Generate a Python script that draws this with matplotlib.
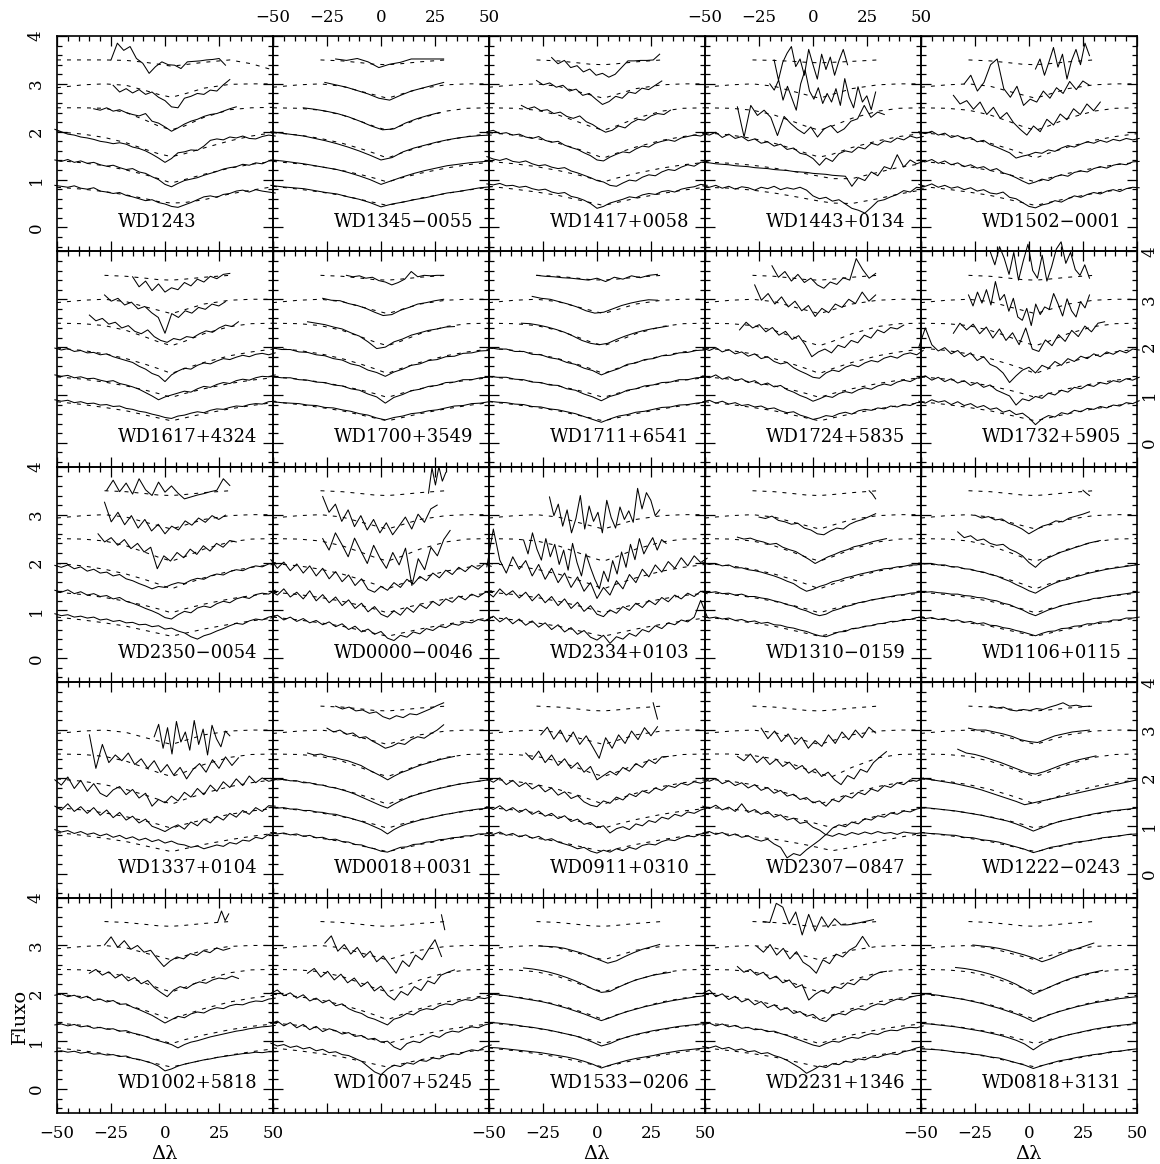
import numpy as np
import matplotlib.pyplot as plt

plt.rcParams['font.family'] = ['DejaVu Serif', 'DejaVu Sans']
nan = float('nan')

# model knots (delta lambda); all fluxes below are in units of 0.01, bottom line first
MX = [-50, -38, -28, -18, -9, -3, 3, 9, 18, 30, 40, 50]

MOD_STD = [
    [86, 80, 74, 67, 58, 52, 46, 52, 61, 71, 78, 84],
    [138, 133, 127, 119, 110, 103, 95, 103, 113, 124, 131, 136],
    [198, 193, 186, 176, 164, 155, 145, 155, 168, 182, 190, 196],
    [250, 249, 245, 235, 221, 211, 203, 212, 228, 243, 249, 250],
    [293, 298, 300, 295, 284, 277, 270, 278, 290, 298, 300, 300],
    [nan, nan, 350, 348, 344, 341, 340, 342, 346, 350, nan, nan],
]
MOD_NO6 = MOD_STD[:5]

# ---- WD1243
wd1243_mod = [
    [84, 80, 75, 68, 60, 54, 51, 52, 58, 70, 78, 85],
    [140, 135, 129, 120, 110, 102, 93, 100, 111, 124, 132, 138],
    [200, 195, 188, 177, 163, 154, 148, 154, 166, 181, 191, 198],
    [250, 250, 249, 240, 224, 212, 204, 212, 230, 246, 250, 251],
    [292, 298, 300, 297, 286, 278, 272, 279, 291, 299, 300, 300],
    [350, 350, 350, 349, 345, 341, 337, 340, 345, 350, 342, 329],
]
wd1243_rng = [(-51, 51), (-51, 51), (-51, 51), (-33, 33), (-24, 30), (-25, 28)]
wd1243_obs = [
    [88, 86, 84, 87, 82, 80, 83, 76, 74, 71, 73, 67, 64, 60, 56, 58, 52, 49, 44, 42, 47, 52, 58, 64, 66, 63, 69, 71, 76, 78, 74, 79, 76, 74, 72],
    [141, 138, 142, 136, 139, 134, 136, 131, 128, 130, 125, 121, 123, 116, 113, 106, 100, 90, 85, 92, 98, 101, 104, 109, 113, 117, 122, 125, 127, 132, 130, 135, 133, 139, 140],
    [205, 200, 195, 193, 189, 187, 184, 180, 178, 175, 177, 174, 168, 165, 160, 153, 145, 136, 144, 156, 158, 162, 161, 170, 182, 185, 183, 189, 187, 191, 186, 185, 190, 193, 191],
    [248, 245, 250, 243, 246, 240, 236, 233, 238, 222, 218, 210, 201, 208, 216, 222, 226, 232, 236, 238, 243, 248, 252],
    [297, 283, 290, 281, 288, 278, 283, 272, 265, 252, 250, 270, 274, 280, 278, 287, 285, 298, 309],
    [350, 385, 370, 378, 353, 343, 322, 336, 346, 340, 339, 332, 346, 347, 348, 350, 351, 353, 339],
]

# ---- WD1345-0055
wd1345_rng = [(-51, 51), (-51, 51), (-51, 51), (-36, 27), (-26, 29), (-21, 29)]
wd1345_obs = [
    [88, 85, 83, 81, 77, 73, 70, 64, 59, 52, 43, 49, 53, 58, 62, 67, 72, 75, 79, 83, 85],
    [141, 139, 136, 133, 129, 125, 121, 115, 108, 100, 90, 98, 106, 113, 119, 124, 129, 132, 135, 137, 139],
    [200, 197, 194, 191, 186, 181, 175, 168, 160, 151, 141, 146, 158, 166, 172, 178, 183, 187, 190, 192, 193],
    [250, 247, 243, 238, 231, 222, 212, 204, 206, 218, 227, 234, 240],
    [303, 298, 293, 286, 279, 270, 266, 276, 285, 291, 297, 303],
    [352, 349, 353, 346, 334, 341, 345, 352, 352, 352, 352],
]

# ---- WD1417+0058
wd1417_rng = [(-51, 51), (-51, 51), (-51, 51), (-35, 34), (-28, 30), (-21, 29)]
wd1417_obs = [
    [91, 89, 92, 87, 88, 84, 86, 81, 78, 80, 74, 71, 73, 65, 62, 57, 50, 40, 44, 51, 55, 59, 64, 62, 68, 71, 69, 75, 77, 74, 80, 83, 85, 90, 88],
    [148, 143, 140, 144, 138, 136, 139, 133, 129, 131, 126, 123, 125, 118, 114, 109, 104, 98, 95, 88, 86, 93, 99, 97, 105, 110, 108, 116, 121, 119, 126, 131, 128, 136, 138],
    [200, 203, 196, 198, 193, 195, 189, 186, 190, 182, 178, 180, 172, 167, 163, 156, 150, 141, 139, 147, 153, 158, 156, 164, 170, 168, 176, 180, 183, 180, 187, 190, 193, 191, 197],
    [255, 248, 252, 244, 246, 238, 241, 232, 228, 233, 221, 215, 206, 199, 203, 212, 208, 219, 226, 224, 233, 238, 236, 245],
    [307, 298, 302, 293, 297, 285, 289, 276, 280, 268, 257, 263, 274, 270, 283, 280, 291, 288, 297, 306],
    [355, 342, 349, 334, 338, 325, 331, 318, 322, 314, 320, 334, 348, 348, 349, 349, 350, 362],
]

# ---- WD1443+0134
wd1443_mod = [
    [84, 82, 78, 72, 65, 60, 55, 51, 50, 60, 70, 78],
    [137, 134, 130, 124, 117, 112, 107, 102, 102, 115, 126, 133],
    [198, 193, 186, 176, 164, 155, 147, 153, 167, 181, 190, 196],
    [250, 249, 245, 235, 221, 211, 203, 212, 228, 243, 249, 250],
    [293, 298, 300, 295, 284, 277, 270, 278, 290, 298, 300, 300],
    [nan, nan, 350, 349, 347, 345, 344, 345, 347, 350, nan, nan],
]
wd1443_rng = [(-51, 51), (-51, 51), (-51, 51), (-35, 33), (-20, 29), (-18, 16)]
wd1443_obs = [
    [87, 84, 88, 82, 86, 80, 85, 83, 78, 84, 81, 86, 79, 83, 80, 84, 78, 66, 60, 63, 55, 58, 49, 40, 36, 30, 42, 55, 58, 64, 69, 77, 74, 84, 82],
    [136, 135, 133, 132, 131, 129, 128, 127, 125, 124, 123, 121, 120, 119, 117, 116, 115, 113, 112, 111, 109, 108, 107, 86, 104, 98, 116, 108, 127, 122, 152, 126, 141, 133, 138],
    [196, 193, 199, 188, 195, 186, 190, 181, 185, 176, 179, 170, 174, 163, 166, 155, 152, 144, 130, 145, 138, 154, 160, 157, 168, 164, 176, 172, 181, 178, 187, 183, 191, 187, 190],
    [252, 189, 255, 234, 245, 230, 192, 232, 217, 205, 196, 210, 189, 206, 213, 198, 206, 222, 227, 255, 230, 241, 236],
    [300, 287, 308, 266, 295, 270, 245, 300, 329, 285, 268, 292, 259, 280, 262, 290, 255, 311, 272, 250, 294, 262, 275, 246, 283],
    [350, 308, 345, 364, 378, 336, 352, 318, 372, 340, 310, 362, 330, 356, 318, 348, 372, 340],
]

# ---- WD1502-0001
wd1502_rng = [(-51, 51), (-51, 51), (-51, 51), (-35, 33), (-30, 28), (3, 28)]
wd1502_obs = [
    [90, 86, 91, 84, 88, 82, 85, 79, 83, 76, 79, 72, 70, 74, 63, 60, 52, 44, 41, 47, 50, 56, 53, 60, 66, 63, 69, 73, 70, 76, 79, 75, 81, 84, 83],
    [141, 137, 142, 134, 139, 131, 135, 127, 131, 124, 127, 119, 123, 114, 110, 104, 97, 91, 95, 101, 98, 106, 110, 107, 115, 118, 116, 123, 127, 124, 130, 133, 131, 137, 138],
    [200, 196, 201, 193, 197, 188, 192, 185, 188, 179, 182, 173, 168, 162, 156, 145, 149, 152, 157, 155, 162, 159, 166, 171, 168, 174, 179, 176, 182, 178, 184, 181, 186, 183, 186],
    [276, 258, 265, 247, 262, 236, 251, 228, 240, 219, 205, 193, 212, 200, 226, 214, 237, 225, 248, 236, 258, 244, 262],
    [300, 318, 285, 303, 340, 352, 290, 272, 295, 255, 268, 262, 285, 270, 292, 280, 305, 288, 306, 297],
    [331, 352, 318, 346, 376, 335, 362, 310, 348, 372, 340, 385, 359],
]

# ---- WD1617+4324
wd1617_rng = [(-51, 51), (-51, 51), (-51, 51), (-35, 34), (-28, 28), (-15, 30)]
wd1617_obs = [
    [90, 87, 89, 84, 86, 82, 83, 79, 80, 76, 77, 72, 70, 66, 64, 60, 57, 53, 51, 56, 58, 62, 65, 63, 68, 71, 70, 74, 77, 76, 80, 82, 81, 86, 87],
    [142, 139, 141, 136, 138, 134, 135, 131, 128, 130, 124, 121, 117, 112, 105, 98, 90, 96, 100, 104, 108, 106, 113, 118, 116, 122, 126, 124, 130, 133, 131, 136, 139, 138, 142],
    [198, 194, 197, 191, 193, 188, 189, 184, 186, 180, 176, 172, 168, 160, 154, 145, 140, 128, 142, 150, 156, 154, 162, 167, 165, 171, 176, 174, 179, 183, 180, 185, 187, 184, 188],
    [267, 255, 260, 248, 252, 240, 245, 233, 228, 236, 222, 214, 210, 218, 215, 222, 220, 228, 234, 231, 240, 246, 243, 253],
    [309, 296, 302, 288, 294, 280, 285, 272, 262, 229, 270, 262, 276, 271, 283, 279, 290, 286, 295],
    [347, 326, 338, 318, 332, 315, 324, 320, 335, 328, 342, 336, 348, 343, 352, 354],
]

# ---- WD1700+3549
wd1700_rng = [(-50, 50), (-50, 50), (-50, 50), (-34, 34), (-27, 29), (-16, 29)]
wd1700_obs = [
    [86, 84, 83, 82, 79, 78, 74, 73, 69, 66, 61, 58, 52, 48, 53, 56, 61, 63, 67, 69, 73, 77, 78, 82, 83, 86],
    [138, 136, 136, 132, 131, 127, 126, 121, 119, 113, 110, 102, 96, 83, 95, 101, 109, 112, 118, 120, 126, 127, 132, 132, 136, 137],
    [198, 195, 195, 190, 189, 184, 182, 176, 173, 165, 161, 152, 147, 139, 148, 154, 162, 165, 172, 174, 180, 181, 187, 188, 192, 193],
    [253, 250, 247, 242, 238, 230, 223, 211, 197, 200, 211, 217, 225, 230, 235, 238, 242, 243],
    [302, 298, 297, 291, 287, 281, 273, 266, 268, 277, 283, 290, 293, 297, 300],
    [350, 347, 349, 344, 346, 339, 336, 330, 335, 342, 358, 347, 350, 349, 350, 350],
]

# ---- WD1711+6541
wd1711_rng = [(-50, 50), (-50, 50), (-50, 50), (-35, 33), (-30, 28), (-28, 28)]
wd1711_obs = [
    [87, 85, 84, 81, 80, 76, 75, 71, 69, 65, 61, 55, 49, 43, 50, 56, 59, 64, 66, 70, 74, 75, 79, 80, 83, 85],
    [139, 137, 137, 133, 132, 127, 126, 121, 120, 113, 110, 102, 96, 88, 97, 102, 110, 113, 119, 121, 126, 127, 132, 132, 136, 137],
    [199, 196, 196, 191, 191, 185, 184, 178, 175, 168, 164, 156, 151, 142, 149, 155, 164, 167, 174, 176, 182, 183, 188, 189, 193, 194],
    [250, 249, 246, 242, 237, 231, 223, 214, 208, 205, 208, 216, 223, 229, 234, 238, 241, 244],
    [306, 302, 300, 295, 290, 284, 276, 271, 273, 280, 287, 292, 296, 299, 298],
    [350, 348, 347, 345, 344, 342, 340, 344, 337, 346, 342, 349, 345, 350, 352],
]

# ---- WD1724+5835
wd1724_rng = [(-51, 51), (-51, 51), (-51, 51), (-34, 42), (-27, 29), (-19, 29)]
wd1724_obs = [
    [86, 89, 83, 87, 81, 84, 78, 80, 75, 77, 71, 73, 67, 63, 65, 58, 54, 49, 52, 57, 55, 61, 64, 60, 67, 70, 68, 73, 71, 77, 75, 80, 78, 84, 85],
    [140, 136, 142, 133, 138, 130, 134, 126, 130, 121, 125, 117, 120, 111, 106, 99, 94, 87, 92, 98, 95, 103, 107, 104, 111, 115, 112, 119, 123, 120, 127, 131, 128, 135, 138],
    [198, 193, 199, 190, 195, 186, 190, 181, 186, 176, 180, 170, 165, 168, 157, 150, 144, 137, 135, 146, 152, 149, 158, 163, 159, 167, 172, 169, 177, 181, 177, 185, 188, 184, 193],
    [236, 252, 240, 247, 232, 241, 225, 233, 216, 224, 205, 180, 190, 196, 188, 204, 199, 214, 209, 225, 219, 236, 230, 241, 238, 246],
    [330, 298, 312, 290, 305, 284, 296, 276, 287, 264, 281, 272, 290, 283, 300, 291, 315, 296, 309],
    [370, 346, 358, 338, 352, 335, 344, 330, 323, 336, 331, 345, 340, 385, 362, 344, 354],
]

# ---- WD1732+5905
wd1732_rng = [(-51, 51), (-51, 51), (-51, 51), (-35, 35), (-28, 28), (-18, 28)]
wd1732_obs = [
    [87, 83, 90, 85, 88, 80, 86, 78, 82, 74, 78, 70, 73, 64, 68, 59, 62, 52, 38, 50, 57, 54, 63, 60, 68, 65, 72, 70, 76, 73, 79, 77, 84, 82, 88],
    [135, 140, 131, 137, 128, 134, 125, 130, 120, 126, 116, 121, 110, 104, 98, 79, 92, 88, 97, 93, 104, 100, 110, 106, 116, 113, 121, 118, 126, 123, 130, 127, 134, 131, 137],
    [200, 240, 205, 192, 199, 186, 193, 180, 188, 172, 180, 164, 158, 146, 126, 140, 152, 158, 146, 162, 156, 170, 162, 176, 170, 181, 176, 186, 180, 190, 185, 193, 188, 196, 194],
    [229, 250, 236, 248, 228, 242, 219, 238, 214, 230, 205, 240, 196, 191, 215, 203, 226, 212, 235, 222, 244, 232, 250, 253],
    [309, 286, 315, 292, 320, 288, 337, 298, 310, 275, 302, 263, 256, 281, 245, 290, 268, 284, 279, 312, 290, 265, 301, 276, 263, 295, 282, 309],
    [400, 372, 410, 385, 352, 398, 340, 380, 415, 360, 344, 392, 338, 368, 405, 420, 375, 398, 362, 350, 372, 344],
]

# ---- WD2350-0054
wd2350_rng = [(-51, 51), (-51, 51), (-51, 51), (-31, 33), (-28, 28), (-27, 30)]
wd2350_obs = [
    [93, 89, 91, 86, 88, 84, 86, 80, 82, 77, 79, 74, 75, 70, 71, 66, 68, 61, 63, 57, 53, 45, 40, 47, 51, 57, 62, 68, 73, 71, 78, 82, 80, 86, 89],
    [142, 138, 143, 135, 139, 132, 135, 129, 131, 124, 127, 119, 115, 110, 104, 99, 93, 85, 82, 91, 98, 95, 105, 109, 106, 114, 119, 116, 124, 128, 125, 133, 136, 134, 142],
    [194, 190, 195, 187, 191, 182, 186, 178, 180, 172, 175, 166, 162, 156, 151, 145, 150, 148, 154, 158, 156, 163, 167, 165, 172, 176, 174, 181, 185, 183, 189, 193, 191, 197, 200],
    [260, 243, 252, 236, 248, 229, 240, 222, 232, 187, 214, 203, 221, 210, 228, 217, 235, 224, 240, 232, 246, 243],
    [326, 285, 305, 279, 298, 272, 290, 266, 280, 260, 276, 268, 287, 278, 293, 284, 298, 290, 299],
    [351, 372, 348, 366, 343, 375, 352, 340, 368, 347, 360, 345, 333, 337, 341, 344, 348, 351, 375, 361],
]

# ---- WD0000-0046
wd0000_rng = [(-51, 51), (-51, 51), (-51, 51), (-27, 32), (-27, 26), (22, 30)]
wd0000_obs = [
    [84, 90, 80, 86, 77, 83, 74, 79, 70, 76, 66, 72, 60, 67, 55, 61, 50, 56, 42, 37, 48, 44, 55, 51, 62, 58, 67, 64, 72, 69, 76, 74, 81, 78, 85],
    [140, 132, 145, 128, 138, 124, 141, 120, 133, 116, 128, 110, 122, 104, 115, 97, 108, 92, 86, 99, 90, 106, 96, 112, 104, 119, 110, 124, 117, 130, 122, 134, 128, 137, 141],
    [206, 188, 201, 183, 197, 178, 193, 172, 188, 166, 181, 160, 174, 152, 166, 144, 138, 150, 142, 158, 148, 165, 155, 171, 162, 178, 168, 184, 175, 190, 181, 194, 186, 198, 192],
    [250, 226, 262, 238, 212, 251, 224, 198, 236, 209, 188, 221, 195, 230, 152, 208, 185, 232, 214, 248, 267],
    [338, 305, 322, 286, 310, 275, 298, 268, 290, 262, 283, 258, 276, 295, 270, 301, 284, 312, 320],
    [345, 398, 362, 400, 370, 388],
]

# ---- WD2334+0103 (five lines only)
wd2334_rng = [(-51, 51), (-51, 51), (-51, 51), (-34, 32), (-22, 29)]
wd2334_obs = [
    [80, 88, 76, 85, 72, 82, 69, 78, 65, 74, 60, 70, 55, 64, 50, 58, 44, 38, 48, 31, 45, 40, 52, 46, 60, 55, 68, 62, 74, 70, 80, 76, 86, 121, 87],
    [139, 128, 145, 132, 141, 126, 138, 120, 134, 116, 129, 110, 124, 104, 117, 98, 110, 92, 87, 101, 94, 108, 100, 115, 106, 121, 112, 127, 118, 132, 124, 136, 129, 140, 135],
    [191, 270, 205, 178, 212, 186, 204, 172, 196, 165, 188, 158, 178, 148, 170, 140, 158, 125, 148, 132, 162, 145, 175, 158, 186, 170, 195, 180, 202, 188, 210, 193, 214, 200, 209],
    [247, 218, 262, 228, 205, 250, 212, 238, 196, 226, 184, 240, 200, 172, 218, 190, 165, 145, 182, 160, 204, 176, 222, 190, 238, 206, 250, 218, 236, 252, 226, 248, 240],
    [337, 298, 322, 276, 310, 262, 292, 340, 270, 318, 286, 305, 262, 330, 294, 272, 316, 290, 308, 284, 355, 312, 346, 330, 298, 310],
]

# ---- WD1310-0159
wd1310_rng = [(-51, 51), (-51, 51), (-51, 51), (-35, 34), (-25, 29), (26, 29)]
wd1310_obs = [
    [87, 84, 86, 82, 84, 79, 81, 76, 78, 73, 75, 70, 69, 65, 63, 59, 56, 51, 47, 45, 50, 55, 56, 62, 63, 67, 68, 72, 73, 77, 77, 81, 81, 85, 86],
    [140, 137, 139, 135, 136, 132, 134, 129, 129, 126, 124, 120, 117, 112, 109, 103, 99, 93, 89, 92, 99, 103, 108, 111, 116, 118, 122, 124, 127, 129, 132, 133, 136, 137, 139],
    [200, 196, 198, 193, 195, 189, 189, 185, 183, 180, 176, 172, 167, 161, 156, 147, 140, 144, 150, 154, 160, 163, 168, 171, 175, 178, 181, 184, 187, 188, 191, 192, 195, 195, 198],
    [253, 249, 251, 246, 243, 238, 240, 232, 227, 223, 215, 207, 198, 205, 212, 217, 223, 227, 233, 236, 240, 244, 247, 250],
    [295, 292, 297, 288, 285, 280, 282, 272, 268, 260, 258, 266, 272, 270, 280, 286, 290, 296, 302],
    [350, 343, 333],
]

# ---- WD1106+0115
wd1106_rng = [(-51, 51), (-51, 51), (-51, 51), (-33, 33), (-25, 28), (25, 28)]
wd1106_obs = [
    [86, 83, 85, 81, 83, 78, 80, 75, 77, 72, 74, 69, 68, 64, 62, 58, 55, 51, 47, 52, 56, 57, 62, 63, 67, 68, 72, 72, 76, 76, 80, 80, 84, 84, 86],
    [140, 138, 139, 137, 136, 134, 134, 131, 130, 127, 126, 122, 120, 115, 112, 106, 101, 94, 89, 95, 101, 105, 110, 113, 116, 119, 121, 125, 126, 129, 131, 133, 135, 137, 138],
    [199, 197, 198, 195, 195, 191, 191, 187, 186, 182, 180, 175, 172, 166, 161, 154, 148, 141, 136, 144, 151, 157, 162, 165, 170, 173, 177, 180, 183, 186, 188, 190, 192, 194, 196],
    [264, 252, 256, 246, 249, 240, 236, 238, 228, 222, 214, 200, 190, 203, 210, 216, 222, 226, 231, 235, 240, 243, 246],
    [299, 293, 296, 289, 291, 282, 277, 270, 260, 268, 276, 280, 287, 285, 293, 297, 301, 306],
    [351, 345, 340],
]

# ---- WD1337+0104 (five lines only)
wd1337_rng = [(-51, 51), (-51, 51), (-51, 51), (-35, 34), (-5, 30)]
wd1337_obs = [
    [92, 87, 90, 84, 88, 82, 85, 79, 83, 76, 80, 73, 77, 70, 74, 67, 71, 64, 68, 62, 60, 55, 58, 52, 56, 60, 57, 65, 62, 70, 68, 76, 73, 82, 85],
    [141, 133, 146, 130, 140, 126, 138, 122, 133, 117, 128, 112, 120, 106, 114, 99, 94, 88, 96, 102, 93, 108, 100, 114, 106, 120, 112, 126, 118, 132, 124, 138, 130, 142, 141],
    [196, 185, 202, 178, 195, 172, 188, 168, 161, 175, 182, 165, 176, 158, 168, 141, 155, 148, 162, 152, 170, 160, 178, 165, 185, 172, 192, 180, 198, 184, 204, 190, 200, 193, 196],
    [290, 220, 270, 232, 248, 236, 252, 228, 240, 220, 236, 212, 228, 206, 222, 198, 218, 230, 212, 238, 220, 244, 226, 242],
    [286, 312, 262, 305, 250, 318, 275, 296, 258, 320, 270, 302, 248, 310, 282, 265, 298, 288],
]

# ---- WD0018+0031
wd0018_rng = [(-51, 51), (-51, 51), (-51, 51), (-34, 34), (-25, 29), (-21, 29)]
wd0018_obs = [
    [86, 83, 85, 81, 83, 78, 80, 75, 76, 71, 72, 67, 66, 61, 60, 55, 52, 47, 45, 50, 55, 56, 61, 62, 66, 67, 71, 72, 75, 76, 79, 79, 83, 83, 85],
    [139, 137, 138, 135, 135, 132, 132, 129, 128, 125, 124, 120, 117, 113, 109, 104, 98, 92, 83, 92, 99, 104, 108, 112, 115, 118, 121, 124, 126, 129, 131, 133, 135, 136, 138],
    [199, 196, 197, 194, 194, 190, 190, 186, 185, 181, 179, 175, 171, 166, 160, 154, 148, 142, 137, 145, 152, 158, 163, 167, 171, 175, 178, 181, 184, 187, 189, 191, 193, 195, 197],
    [252, 248, 250, 245, 243, 239, 236, 231, 226, 218, 211, 204, 196, 204, 211, 216, 222, 227, 231, 235, 239, 242, 245],
    [304, 296, 300, 291, 294, 284, 286, 277, 270, 262, 266, 273, 270, 280, 286, 283, 292, 300, 311],
    [350, 344, 348, 340, 342, 335, 338, 328, 323, 330, 326, 334, 332, 338, 344, 351, 357],
]

# ---- WD0911+0310
wd0911_rng = [(-51, 51), (-51, 51), (-51, 51), (-33, 33), (-26, 28), (26, 28)]
wd0911_obs = [
    [86, 82, 87, 80, 84, 77, 81, 74, 78, 70, 73, 66, 62, 58, 52, 55, 47, 43, 49, 45, 52, 48, 55, 51, 59, 62, 60, 67, 71, 69, 75, 79, 77, 83, 85],
    [140, 134, 142, 131, 138, 128, 135, 124, 131, 120, 126, 115, 121, 109, 114, 103, 107, 96, 100, 85, 94, 98, 92, 104, 100, 111, 107, 118, 114, 124, 120, 129, 126, 133, 137],
    [198, 191, 200, 186, 195, 182, 190, 177, 185, 171, 179, 164, 171, 157, 163, 150, 143, 140, 152, 147, 160, 154, 167, 161, 173, 168, 179, 174, 184, 180, 189, 185, 192, 189, 194],
    [252, 238, 256, 232, 248, 226, 240, 220, 232, 212, 224, 196, 205, 214, 206, 222, 214, 230, 222, 238, 230, 244, 245],
    [290, 306, 281, 300, 275, 296, 270, 288, 265, 241, 284, 262, 290, 272, 298, 280, 305, 288, 307],
    [357, 340, 323],
]

# ---- WD2307-0847
wd2307_mod = [
    [86, 82, 78, 72, 65, 60, 54, 48, 55, 67, 76, 84],
    [139, 135, 130, 124, 116, 110, 103, 96, 106, 121, 130, 136],
    [198, 193, 186, 176, 164, 155, 145, 155, 168, 182, 190, 196],
    [250, 250, 247, 240, 228, 218, 208, 203, 222, 242, 249, 250],
    [293, 298, 300, 295, 284, 277, 270, 278, 290, 298, 300, 300],
    [nan, nan, 350, 348, 344, 341, 340, 342, 346, 350, nan, nan],
]
wd2307_rng = [(-51, 51), (-51, 51), (-51, 51), (-35, 34), (-24, 29)]
wd2307_obs = [
    [85, 88, 82, 86, 79, 83, 76, 79, 72, 68, 72, 62, 55, 33, 42, 38, 50, 60, 70, 82, 78, 84, 80, 86, 82, 87, 83, 88, 84, 86, 82, 87, 85, 84, 86],
    [141, 136, 143, 133, 139, 130, 146, 128, 134, 124, 130, 118, 123, 112, 116, 105, 108, 97, 91, 81, 95, 102, 98, 108, 104, 115, 112, 121, 118, 127, 124, 131, 129, 135, 138],
    [200, 193, 199, 188, 194, 184, 190, 179, 186, 174, 180, 168, 174, 162, 166, 155, 159, 148, 152, 141, 155, 150, 163, 158, 170, 165, 177, 172, 184, 180, 190, 186, 196, 193, 200],
    [245, 236, 250, 232, 244, 228, 239, 224, 233, 218, 226, 210, 219, 203, 212, 196, 186, 205, 198, 218, 212, 232, 244, 255],
    [304, 282, 298, 276, 292, 270, 285, 262, 278, 266, 290, 272, 296, 280, 300, 284, 306, 294],
]

# ---- WD1222-0243
wd1222_rng = [(-50, 50), (-50, 50), (-50, 50), (-33, 31), (-28, 28), (-18, 28)]
wd1222_obs = [
    [86, 84, 83, 81, 80, 76, 75, 71, 69, 66, 61, 56, 51, 44, 49, 55, 58, 62, 66, 68, 71, 75, 77, 79, 82, 83],
    [138, 137, 135, 133, 131, 128, 125, 122, 118, 114, 110, 104, 97, 89, 96, 103, 109, 113, 117, 121, 125, 128, 131, 133, 135, 137],
    [199, 197, 194, 191, 188, 184, 180, 175, 169, 163, 157, 151, 144, 148, 152, 156, 160, 164, 168, 172, 176, 180, 184, 188, 192, 196],
    [260, 252, 249, 244, 238, 232, 225, 218, 211, 208, 213, 220, 227, 233, 238, 242, 246],
    [304, 300, 300, 296, 292, 287, 280, 276, 274, 281, 288, 292, 296, 298, 300],
    [350, 346, 348, 342, 340, 343, 341, 345, 343, 348, 352, 357, 350, 352, 349, 350],
]

# ---- WD1002+5818
wd1002_rng = [(-51, 51), (-51, 51), (-51, 51), (-35, 34), (-28, 30), (24.5, 29.5)]
wd1002_obs = [
    [78, 80, 77, 79, 75, 77, 73, 74, 71, 72, 68, 69, 64, 62, 58, 54, 48, 38, 42, 48, 52, 55, 58, 61, 63, 66, 68, 70, 72, 74, 75, 77, 76, 78, 78],
    [134, 136, 132, 135, 130, 132, 127, 129, 125, 126, 121, 122, 117, 114, 110, 105, 101, 97, 93, 86, 93, 98, 101, 105, 109, 112, 115, 118, 121, 123, 126, 128, 130, 131, 133],
    [196, 199, 193, 196, 190, 194, 185, 188, 182, 185, 177, 178, 171, 166, 160, 154, 146, 138, 145, 152, 149, 157, 161, 159, 166, 170, 168, 174, 177, 176, 181, 184, 183, 188, 190],
    [242, 250, 238, 245, 232, 240, 226, 233, 220, 227, 212, 202, 193, 207, 214, 210, 219, 224, 221, 228, 232, 230, 236, 231],
    [301, 318, 296, 310, 292, 300, 286, 290, 272, 256, 268, 276, 272, 283, 279, 289, 285, 295, 290, 294],
    [350, 372, 352, 366],
]

# ---- WD1007+5245
wd1007_rng = [(-51, 51), (-51, 51), (-51, 51), (-34, 34), (-26, 28), (28, 29.5)]
wd1007_obs = [
    [96, 90, 93, 87, 90, 84, 87, 80, 83, 76, 78, 72, 70, 64, 58, 47, 36, 30, 42, 50, 47, 55, 52, 60, 58, 65, 63, 70, 74, 72, 78, 82, 80, 88, 92],
    [137, 142, 132, 139, 128, 135, 124, 131, 120, 126, 122, 115, 118, 110, 112, 104, 106, 98, 100, 88, 82, 95, 100, 97, 106, 112, 108, 117, 121, 119, 126, 130, 128, 134, 137],
    [200, 207, 195, 201, 190, 197, 184, 190, 180, 186, 174, 178, 168, 162, 158, 150, 146, 140, 134, 146, 150, 158, 155, 164, 168, 166, 174, 178, 176, 183, 187, 185, 191, 189, 193],
    [242, 252, 234, 246, 228, 240, 222, 232, 214, 224, 205, 215, 196, 186, 204, 196, 214, 206, 226, 220, 238, 244, 249],
    [305, 320, 288, 302, 282, 296, 275, 288, 266, 278, 260, 242, 268, 256, 280, 270, 292, 312, 277],
    [364, 333],
]

# ---- WD1533-0206
wd1533_rng = [(-50, 50), (-50, 50), (-50, 50), (-34, 34), (-27, 29)]
wd1533_obs = [
    [87, 86, 84, 82, 80, 78, 76, 73, 70, 67, 63, 58, 52, 44, 50, 55, 60, 64, 67, 70, 74, 77, 80, 82, 84, 86],
    [139, 138, 136, 134, 131, 129, 126, 123, 119, 115, 111, 105, 98, 90, 95, 103, 109, 114, 118, 122, 125, 128, 131, 133, 135, 137],
    [199, 197, 195, 192, 189, 186, 183, 179, 174, 169, 163, 157, 150, 143, 149, 156, 162, 167, 172, 176, 180, 184, 187, 190, 193, 195],
    [253, 251, 248, 244, 239, 233, 226, 218, 209, 202, 204, 213, 221, 228, 233, 238, 241, 244],
    [299, 298, 297, 294, 289, 284, 277, 270, 263, 268, 277, 285, 292, 297, 302],
]

# ---- WD2231+1346
wd2231_rng = [(-51, 51), (-51, 51), (-51, 51), (-35, 34), (-26, 26), (-23, 28)]
wd2231_obs = [
    [89, 86, 90, 84, 87, 81, 84, 78, 80, 74, 76, 70, 66, 60, 52, 44, 33, 40, 48, 45, 53, 51, 58, 56, 63, 61, 67, 66, 71, 74, 72, 78, 81, 86, 89],
    [134, 138, 132, 136, 130, 133, 127, 129, 124, 125, 120, 121, 116, 112, 107, 102, 97, 92, 89, 95, 100, 98, 104, 108, 106, 112, 116, 114, 120, 123, 122, 127, 129, 128, 132],
    [200, 207, 193, 199, 187, 194, 182, 188, 176, 183, 170, 176, 165, 170, 158, 162, 152, 156, 145, 141, 153, 158, 155, 164, 168, 165, 173, 178, 176, 183, 188, 186, 192, 195, 197],
    [256, 244, 250, 238, 244, 230, 236, 222, 228, 212, 218, 186, 198, 206, 200, 214, 210, 222, 218, 230, 228, 238, 244, 246],
    [298, 286, 302, 280, 294, 272, 287, 265, 256, 242, 270, 262, 282, 276, 290, 298, 319, 298],
    [350, 348, 388, 380, 345, 370, 322, 365, 330, 360, 338, 356, 343, 343, 345, 348, 351, 354],
]

# ---- WD0818+3131
wd0818_rng = [(-50, 50), (-50, 50), (-50, 50), (-34, 34), (-26, 30)]
wd0818_obs = [
    [84, 83, 82, 80, 77, 76, 73, 71, 67, 65, 60, 55, 50, 43, 49, 54, 59, 62, 66, 69, 72, 74, 78, 79, 82, 84],
    [137, 136, 134, 132, 130, 127, 124, 121, 117, 113, 108, 102, 94, 82, 94, 102, 108, 113, 117, 121, 125, 128, 131, 133, 135, 137],
    [200, 198, 196, 193, 190, 187, 183, 179, 174, 169, 163, 157, 150, 141, 149, 156, 162, 167, 172, 176, 180, 183, 186, 189, 191, 193],
    [254, 252, 249, 245, 240, 234, 227, 219, 209, 198, 206, 214, 222, 229, 235, 240, 244, 248],
    [301, 299, 297, 294, 290, 285, 280, 274, 266, 272, 280, 287, 293, 299, 305],
]

PANELS = [
    ("WD1243", wd1243_mod, wd1243_rng, wd1243_obs),
    ("WD1345\u22120055", MOD_STD, wd1345_rng, wd1345_obs),
    ("WD1417+0058", MOD_STD, wd1417_rng, wd1417_obs),
    ("WD1443+0134", wd1443_mod, wd1443_rng, wd1443_obs),
    ("WD1502\u22120001", MOD_STD, wd1502_rng, wd1502_obs),
    ("WD1617+4324", MOD_STD, wd1617_rng, wd1617_obs),
    ("WD1700+3549", MOD_STD, wd1700_rng, wd1700_obs),
    ("WD1711+6541", MOD_STD, wd1711_rng, wd1711_obs),
    ("WD1724+5835", MOD_STD, wd1724_rng, wd1724_obs),
    ("WD1732+5905", MOD_STD, wd1732_rng, wd1732_obs),
    ("WD2350\u22120054", MOD_STD, wd2350_rng, wd2350_obs),
    ("WD0000\u22120046", MOD_STD, wd0000_rng, wd0000_obs),
    ("WD2334+0103", MOD_NO6, wd2334_rng, wd2334_obs),
    ("WD1310\u22120159", MOD_STD, wd1310_rng, wd1310_obs),
    ("WD1106+0115", MOD_STD, wd1106_rng, wd1106_obs),
    ("WD1337+0104", MOD_NO6, wd1337_rng, wd1337_obs),
    ("WD0018+0031", MOD_STD, wd0018_rng, wd0018_obs),
    ("WD0911+0310", MOD_STD, wd0911_rng, wd0911_obs),
    ("WD2307\u22120847", wd2307_mod, wd2307_rng, wd2307_obs),
    ("WD1222\u22120243", MOD_STD, wd1222_rng, wd1222_obs),
    ("WD1002+5818", MOD_STD, wd1002_rng, wd1002_obs),
    ("WD1007+5245", MOD_STD, wd1007_rng, wd1007_obs),
    ("WD1533\u22120206", MOD_STD, wd1533_rng, wd1533_obs),
    ("WD2231+1346", MOD_STD, wd2231_rng, wd2231_obs),
    ("WD0818+3131", MOD_STD, wd0818_rng, wd0818_obs),
]

W, H = 1160, 1164
fig = plt.figure(figsize=(W / 100, H / 100), dpi=100)
axes = fig.subplots(5, 5)
fig.subplots_adjust(left=57 / W, right=1137 / W, top=1 - 36 / H, bottom=1 - 1113 / H,
                    wspace=0, hspace=0)

for i, (name, mod, rng, obs) in enumerate(PANELS):
    r, c = divmod(i, 5)
    ax = axes[r, c]
    ax.patch.set_visible(False)
    for m in mod:
        ax.plot(MX, np.array(m, float) / 100, color='k', lw=0.75, ls=(0, (3.8, 5.8)))
    for (x0, x1), v in zip(rng, obs):
        x = np.linspace(x0, x1, len(v))
        ax.plot(x, np.array(v) / 100, color='k', lw=0.75, clip_on=False)
    ax.text(-22, 0.12, name, ha='left', va='center', fontsize=13)

    ax.set_xlim(-50, 50)
    ax.set_ylim(-0.5, 4)
    ax.set_xticks([-50, -25, 0, 25, 50])
    ax.set_xticks(np.arange(-50, 51, 5), minor=True)
    ax.set_yticks([0, 1, 2, 3, 4])
    ax.set_yticks(np.arange(-0.4, 4.01, 0.2), minor=True)
    ax.tick_params(which='both', direction='in', top=True, right=True,
                   labelbottom=False, labelleft=False, labelsize=12)
    ax.tick_params(which='major', length=7, width=0.9, pad=9)
    ax.tick_params(which='minor', length=3.5, width=0.9)
    for s in ax.spines.values():
        s.set_linewidth(1.2)

    if r == 4 and c in (0, 2, 4):
        ax.tick_params(labelbottom=True)
    if r == 0 and c in (1, 3):
        ax.tick_params(labeltop=True, pad=7)
    if c == 0 and r in (0, 2, 4):
        ax.tick_params(axis='y', labelleft=True, labelrotation=90)
        for t in ax.get_yticklabels():
            t.set_va('center')
    if c == 4 and r in (1, 3):
        ax.tick_params(axis='y', labelright=True, labelrotation=90, pad=3)
        for t in ax.get_yticklabels():
            t.set_va('center')

for c in (0, 2, 4):
    fig.text((57 + 216 * c + 108) / W, 1 - 1154 / H, '\u0394\u03bb',
             ha='center', va='center', fontsize=14)
fig.text(20 / W, 1 - 1016 / H, 'Fluxo', rotation=90, ha='center', va='center', fontsize=14)

fig.savefig('out.png', dpi=100)
